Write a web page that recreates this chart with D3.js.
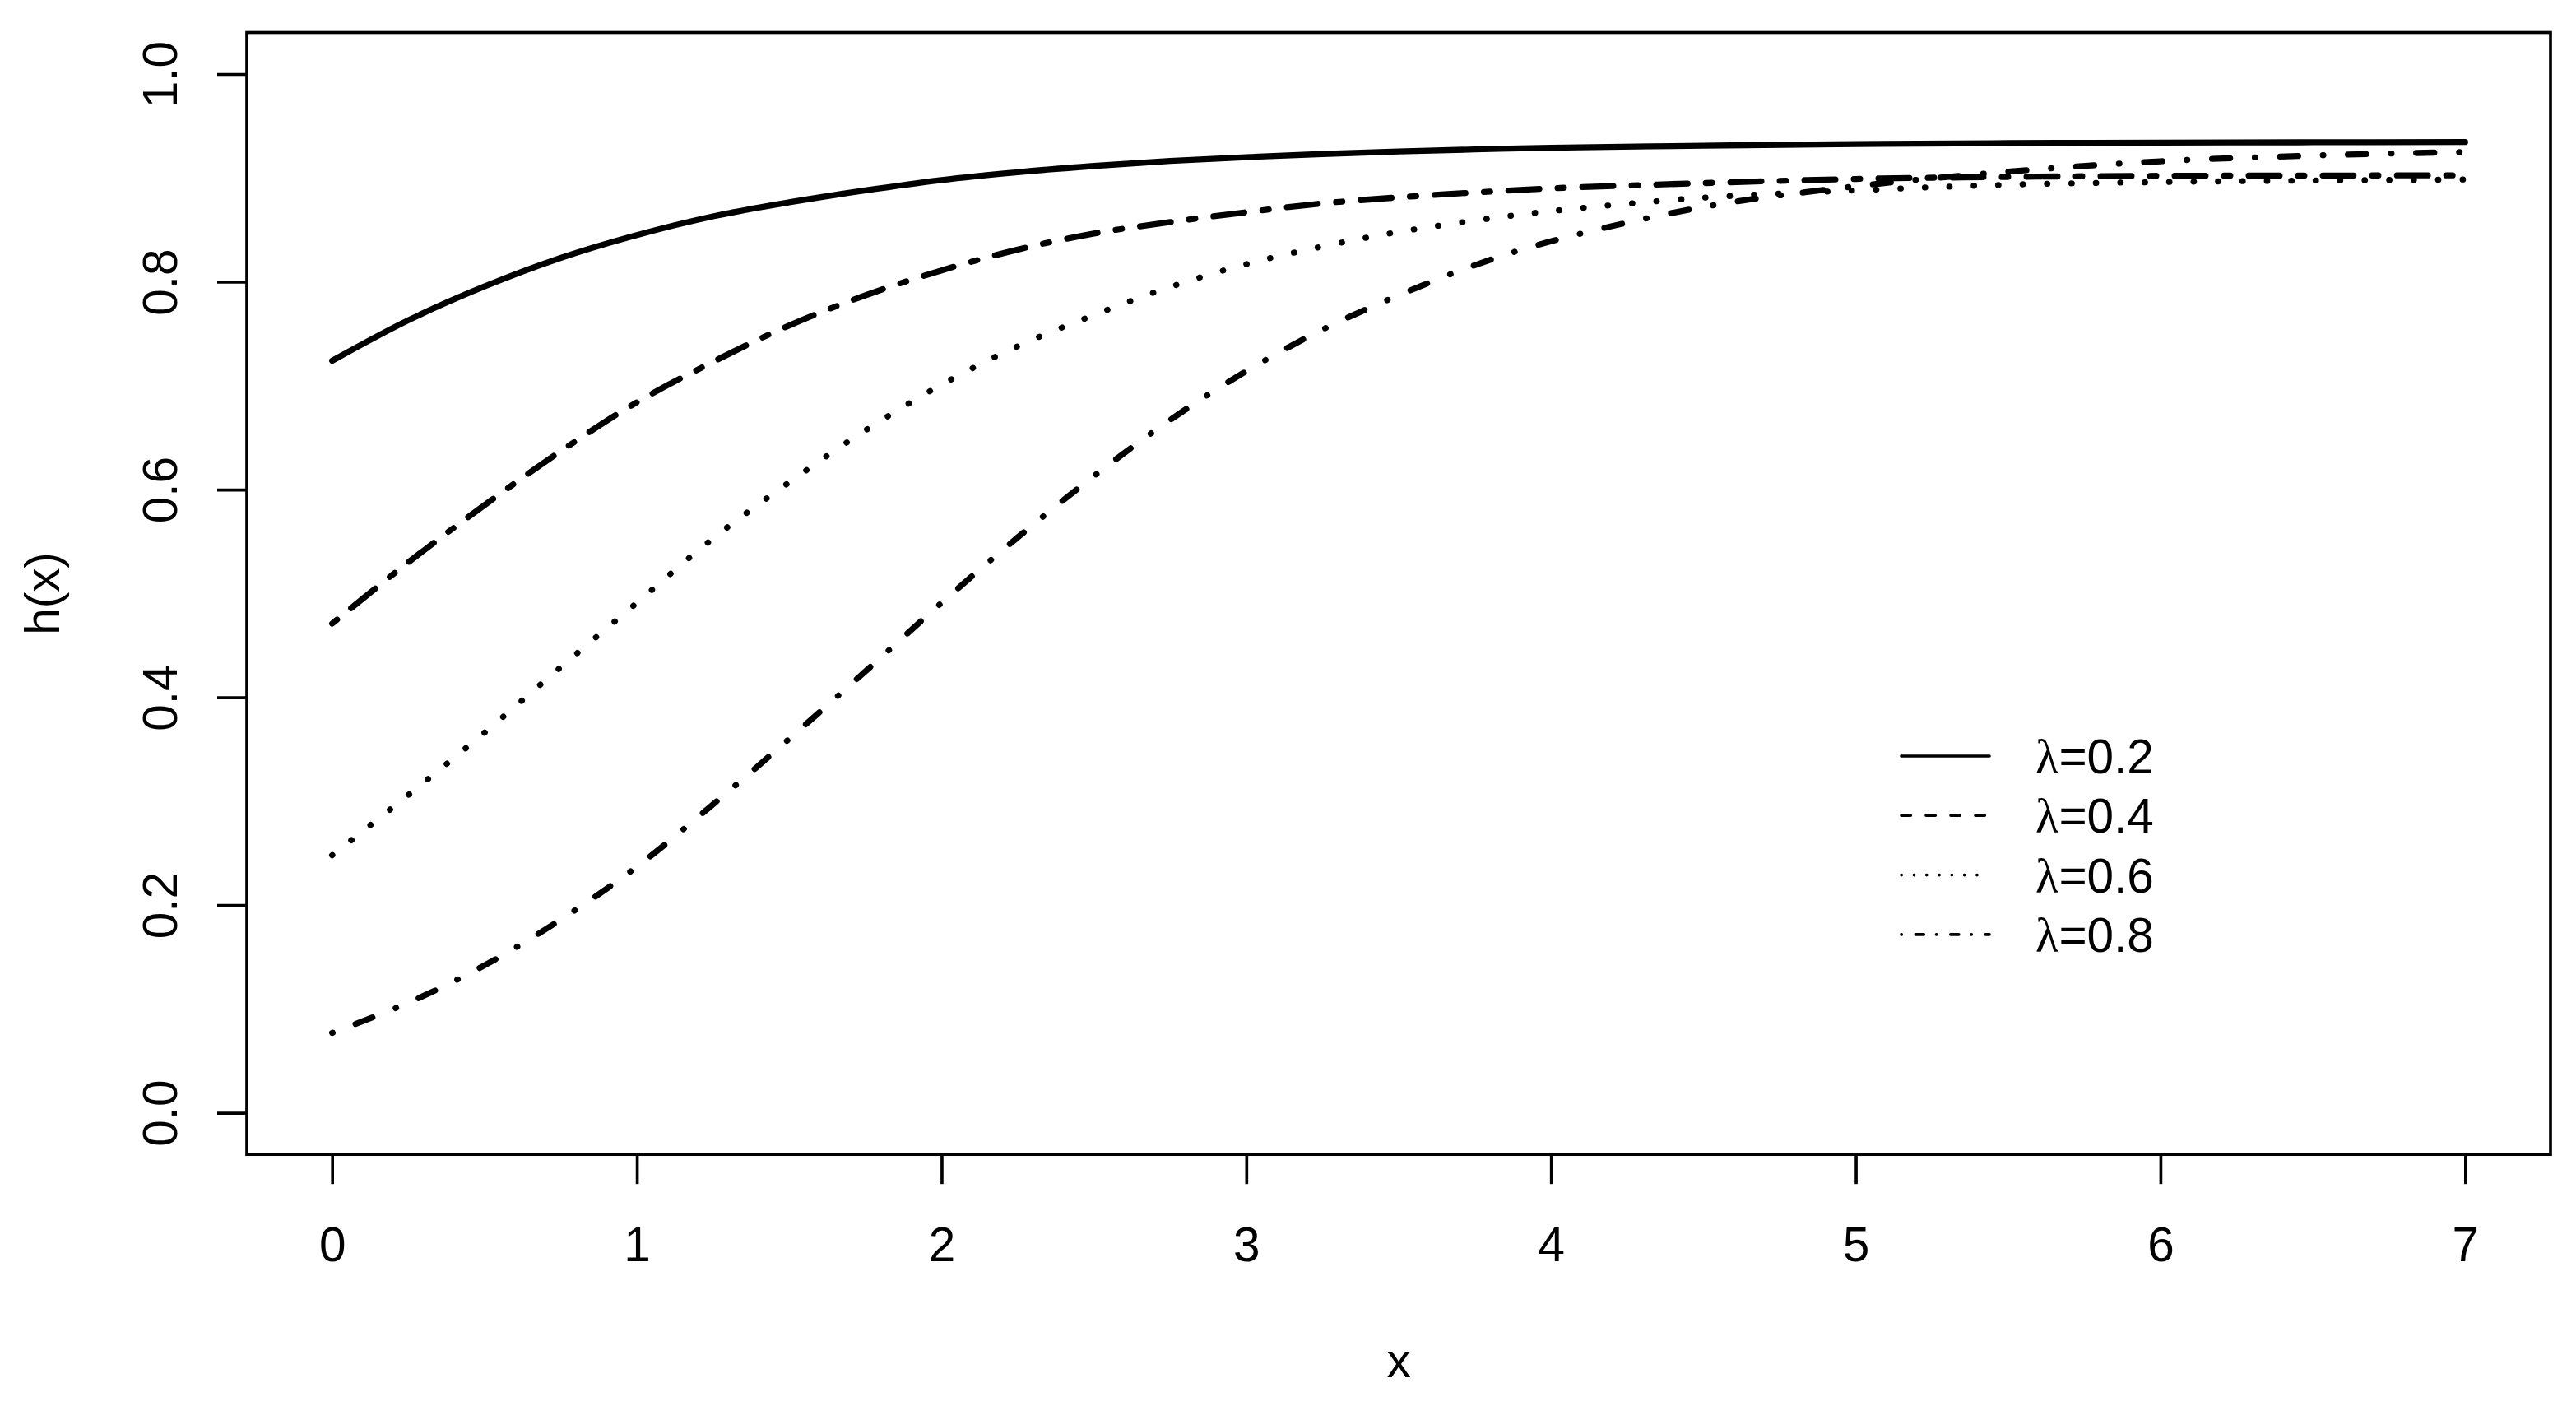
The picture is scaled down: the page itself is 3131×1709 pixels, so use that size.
<!DOCTYPE html>
<html>
<head>
<meta charset="utf-8">
<script src="https://cdn.jsdelivr.net/npm/d3@7"></script>
<style>
  body { margin: 0; background: #fff; }
  text { font-family: "Liberation Sans", Arial, Helvetica, sans-serif; fill: #000; }
</style>
</head>
<body>
<div id="chart"></div>
<script>
const width = 3131;
const height = 1709;
const fontSize = 58.5;
const thin = 3.65;
const thick = 7.3;

// values
const xValues = [0, 0.25, 0.5, 0.75, 1, 1.25, 1.5, 1.75, 2, 2.25, 2.5, 2.75, 3, 3.25, 3.5, 3.75, 4, 4.5, 5, 5.5, 6, 6.5, 7];
const hLambda02 = [0.724, 0.763, 0.7955, 0.823, 0.845, 0.863, 0.8765, 0.888, 0.898, 0.9055, 0.9115, 0.9164, 0.920, 0.923, 0.9255, 0.9274, 0.929, 0.931, 0.9326, 0.9335, 0.934, 0.9343, 0.9345];
const hLambda04 = [0.471, 0.530, 0.585, 0.637, 0.684, 0.723, 0.758, 0.787, 0.811, 0.831, 0.8465, 0.8575, 0.867, 0.8755, 0.8813, 0.886, 0.890, 0.895, 0.899, 0.901, 0.902, 0.9023, 0.9025];
const hLambda06 = [0.248, 0.306, 0.366, 0.429, 0.491, 0.553, 0.607, 0.657, 0.701, 0.738, 0.768, 0.795, 0.817, 0.834, 0.848, 0.859, 0.868, 0.881, 0.888, 0.8935, 0.896, 0.8975, 0.8985];
const hLambda08 = [0.077, 0.106, 0.142, 0.186, 0.237, 0.297, 0.360, 0.425, 0.491, 0.554, 0.613, 0.667, 0.714, 0.754, 0.787, 0.816, 0.839, 0.872, 0.892, 0.906, 0.916, 0.9215, 0.925];
const legendLabels = ['0.2', '0.4', '0.6', '0.8'];
const xTicks = [0, 1, 2, 3, 4, 5, 6, 7];
const yTicks = [0, 0.2, 0.4, 0.6, 0.8, 1.0];

const plot = { left: 300, right: 3100, top: 39.5, bottom: 1403.2 };

// curve dashes (round caps, so "on" lengths are shortened by the stroke width)
const curveStyles = [
  { values: hLambda02, dash: null },
  { values: hLambda04, dash: '7.7,22.3,37.7,22.3' },
  { values: hLambda06, dash: '0.5,29.2' },
  { values: hLambda08, dash: '0.7,30,22,30' }
];
const legendDashes = [null, '11.3,18.7', '0.3,15', '0.3,17,10,15.2'];

const svg = d3.select('#chart')
  .append('svg')
  .attr('width', width)
  .attr('height', height);

svg.append('rect')
  .attr('width', width)
  .attr('height', height)
  .attr('fill', '#fff');

const x = d3.scaleLinear().domain([-0.28, 7.28]).range([plot.left, plot.right]);
const y = d3.scaleLinear().domain([-0.04, 1.04]).range([plot.bottom, plot.top]);

// x axis
const xAxis = svg.append('g')
  .attr('transform', `translate(0,${plot.bottom})`)
  .call(d3.axisBottom(x).tickValues(xTicks).tickFormat(d3.format('d')).tickSize(36).tickPadding(52));
xAxis.select('.domain').remove();
xAxis.selectAll('line').attr('stroke', '#000').attr('stroke-width', thin);
xAxis.selectAll('text')
  .attr('font-size', fontSize)
  .attr('font-family', '"Liberation Sans", Arial, sans-serif')
  .attr('fill', '#000');

// y axis, labels turned parallel to the axis
const yAxis = svg.append('g')
  .attr('transform', `translate(${plot.left},0)`)
  .call(d3.axisLeft(y).tickValues(yTicks).tickFormat(d3.format('.1f')).tickSize(36));
yAxis.select('.domain').remove();
yAxis.selectAll('line').attr('stroke', '#000').attr('stroke-width', thin);
yAxis.selectAll('text')
  .attr('font-size', fontSize)
  .attr('font-family', '"Liberation Sans", Arial, sans-serif')
  .attr('fill', '#000')
  .attr('transform', 'rotate(-90)')
  .attr('x', 0)
  .attr('y', -85)
  .attr('dy', null)
  .attr('text-anchor', 'middle');

// curves
const line = d3.line()
  .x(d => x(d[0]))
  .y(d => y(d[1]))
  .curve(d3.curveCatmullRom.alpha(0.5));

svg.append('g')
  .selectAll('path')
  .data(curveStyles)
  .enter()
  .append('path')
  .attr('d', d => line(xValues.map((v, i) => [v, d.values[i]])))
  .attr('fill', 'none')
  .attr('stroke', '#000')
  .attr('stroke-width', thick)
  .attr('stroke-linecap', 'round')
  .attr('stroke-linejoin', 'round')
  .attr('stroke-dasharray', d => d.dash);

// frame
svg.append('rect')
  .attr('x', plot.left)
  .attr('y', plot.top)
  .attr('width', plot.right - plot.left)
  .attr('height', plot.bottom - plot.top)
  .attr('fill', 'none')
  .attr('stroke', '#000')
  .attr('stroke-width', thin);

// axis titles
svg.append('text')
  .attr('x', (plot.left + plot.right) / 2)
  .attr('y', 1674)
  .attr('text-anchor', 'middle')
  .attr('font-size', fontSize)
  .text('x');

svg.append('text')
  .attr('transform', `translate(72,${(plot.top + plot.bottom) / 2}) rotate(-90)`)
  .attr('text-anchor', 'middle')
  .attr('font-size', fontSize)
  .text('h(x)');

// legend
const legend = svg.append('g')
  .selectAll('g')
  .data(legendLabels)
  .enter()
  .append('g')
  .attr('transform', (d, i) => `translate(0,${919 + i * 72.3})`);

legend.append('line')
  .attr('x1', 2311)
  .attr('x2', 2418)
  .attr('stroke', '#000')
  .attr('stroke-width', thin)
  .attr('stroke-linecap', 'round')
  .attr('stroke-dasharray', (d, i) => legendDashes[i]);

const legendText = legend.append('text')
  .attr('x', 2474)
  .attr('y', 21)
  .attr('font-size', fontSize);
legendText.append('tspan')
  .attr('font-family', '"Liberation Serif", "DejaVu Serif", serif')
  .text('λ');
legendText.append('tspan')
  .text(d => '=' + d);
</script>
</body>
</html>
